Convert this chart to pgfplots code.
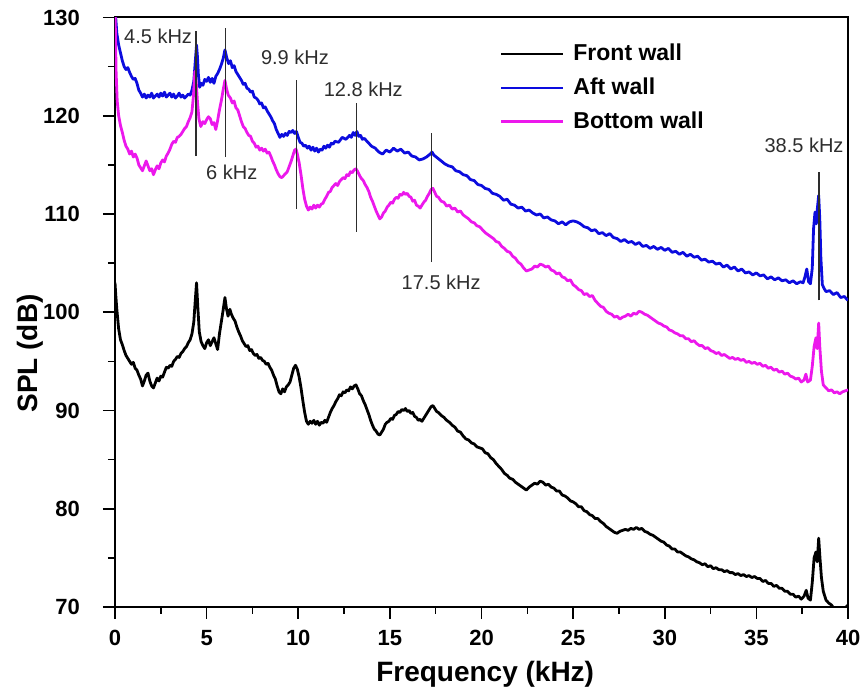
\documentclass[border=0pt]{standalone}
\usepackage{fontspec}
\setmainfont{Liberation Sans}
\usepackage{pgfplots}
\pgfplotsset{compat=1.18}
\definecolor{aftblue}{RGB}{12,12,222}
\definecolor{botpink}{RGB}{236,24,236}
\definecolor{annot}{RGB}{45,45,45}

\begin{document}
\begin{tikzpicture}
\begin{axis}[
  scale only axis, width=366.5pt, height=294.75pt,
  xmin=0, xmax=40, ymin=70, ymax=130,
  xtick={0,5,...,40}, ytick={70,80,...,130},
  minor x tick num=1, minor y tick num=1,
  xtick pos=bottom, ytick pos=left,
  major tick length=6pt, minor tick length=3.5pt,
  axis line style={line width=1pt},
  every tick/.append style={black, line width=0.8pt},
  /pgf/number format/assume math mode=true,
  tick label style={font=\fontsize{11}{13}\selectfont\bfseries},
  xticklabel style={yshift=-2pt},
  yticklabel style={xshift=-8pt},
  xlabel={Frequency (kHz)}, ylabel={SPL (dB)},
  label style={font=\fontsize{14}{16}\selectfont\bfseries},
  xlabel style={at={(axis description cs:0.505,-0.1137)}, anchor=center},
  ylabel style={at={(axis description cs:-0.116,0.43)}, anchor=center},
  legend style={at={(axis description cs:0.525,0.962)}, anchor=north west,
    draw=none, fill=none, inner sep=0pt, row sep=3pt,
    font=\fontsize{11.5}{13}\selectfont\bfseries,
    nodes={inner xsep=4.5pt}, cells={anchor=west}},
  legend image code/.code={\draw[#1, line width=1.1pt] (0pt,0pt) -- (31pt,0pt);},
  tick align=outside,
]
\coordinate (bl) at (rel axis cs:0,0);
\coordinate (tr) at (rel axis cs:1,1);

% Front wall
\addplot[black, line width=1.4pt, line join=round] coordinates {
(0,103) (0.04,101.8) (0.1,100.3) (0.2,98.3) (0.3,97.2) (0.4,96.7) (0.5,96.1) (0.6,95.6) (0.7,95.3) (0.8,95.0)
(0.9,94.7) (1.0,94.9) (1.1,94.3) (1.2,94.1) (1.3,93.6) (1.4,93.2) (1.5,92.5) (1.6,93.0) (1.7,93.6) (1.8,93.8)
(1.9,93.0) (2.0,92.5) (2.1,92.3) (2.2,92.8) (2.3,93.3) (2.4,93.0) (2.5,93.5) (2.6,93.4) (2.7,93.9) (2.8,94.4)
(2.9,94.3) (3.0,94.6) (3.1,94.5) (3.2,95.0) (3.3,95.2) (3.4,95.5) (3.5,95.4) (3.6,95.8) (3.7,96.0) (3.8,96.3)
(3.9,96.5) (4.0,96.9) (4.1,97.2) (4.2,97.8) (4.3,99.0) (4.38,101.2) (4.45,103.0) (4.52,100.5) (4.6,98.0) (4.7,97.0)
(4.8,96.6) (4.9,96.3) (5.0,96.9) (5.1,97.2) (5.2,96.6) (5.3,97.0) (5.4,97.4) (5.5,96.8) (5.6,96.2) (5.7,97.8)
(5.8,99.0) (5.9,100.2) (6.0,101.5) (6.08,100.4) (6.17,99.6) (6.27,100.3) (6.35,99.8) (6.45,99.4) (6.55,99.1) (6.65,98.5)
(6.75,98.0) (6.85,97.6) (6.95,97.1) (7.05,96.8) (7.15,96.5) (7.25,96.6) (7.35,96.1) (7.45,96.2) (7.55,95.8) (7.65,95.6)
(7.75,95.7) (7.85,95.3) (7.95,95.4) (8.05,95.1) (8.15,95.0) (8.25,94.7) (8.35,94.8) (8.45,94.4) (8.55,94.1) (8.65,93.6)
(8.75,93.2) (8.85,92.5) (8.95,91.9) (9.05,91.7) (9.15,92.2) (9.25,91.9) (9.35,92.4) (9.45,92.6) (9.55,92.9) (9.65,93.6)
(9.75,94.3) (9.85,94.6) (9.95,94.2) (10.05,93.4) (10.15,92.3) (10.25,91.0) (10.35,89.8) (10.45,88.9) (10.55,88.6) (10.65,88.9)
(10.75,88.7) (10.85,89.0) (10.95,88.6) (11.05,88.9) (11.15,88.5) (11.25,88.8) (11.35,88.7) (11.45,89.0) (11.55,88.8) (11.65,89.3)
(11.75,89.8) (11.85,90.2) (11.95,90.5) (12.05,90.9) (12.15,91.2) (12.25,91.6) (12.35,91.5) (12.45,91.9) (12.55,91.8) (12.65,92.1)
(12.75,92.0) (12.85,92.4) (12.95,92.2) (13.05,92.5) (13.15,92.6) (13.25,92.2) (13.35,91.7) (13.45,91.5) (13.55,91.0) (13.65,90.6)
(13.75,90.1) (13.85,89.6) (13.95,89.0) (14.05,88.5) (14.15,88.1) (14.25,87.9) (14.35,87.6) (14.45,87.5) (14.55,87.8) (14.65,88.1)
(14.75,88.6) (14.85,88.8) (14.95,88.9) (15.05,89.2) (15.15,89.1) (15.25,89.5) (15.35,89.6) (15.45,89.9) (15.55,89.8) (15.65,90.1)
(15.75,90.0) (15.85,90.2) (15.95,89.9) (16.05,90.0) (16.15,89.7) (16.25,89.8) (16.35,89.4) (16.45,89.3) (16.55,89.0) (16.65,89.1)
(16.75,88.9) (16.85,89.2) (16.95,89.5) (17.05,89.8) (17.15,90.1) (17.25,90.4) (17.35,90.5) (17.45,90.2) (17.55,89.9) (17.65,89.8)
(17.8,89.5) (17.95,89.3) (18.1,89.0) (18.25,88.8) (18.4,88.5) (18.55,88.3) (18.7,87.9) (18.85,87.8) (19.0,87.4) (19.15,87.1)
(19.3,87.0) (19.45,86.7) (19.6,86.6) (19.75,86.3) (19.9,86.2) (20.05,86.1) (20.2,85.7) (20.35,85.6) (20.5,85.2) (20.65,85.0)
(20.8,84.6) (20.95,84.3) (21.1,84.0) (21.25,83.6) (21.4,83.4) (21.55,83.1) (21.7,83.0) (21.85,82.7) (22.0,82.5) (22.15,82.3)
(22.3,82.1) (22.45,81.9) (22.6,82.2) (22.75,82.4) (22.9,82.6) (23.05,82.5) (23.2,82.8) (23.35,82.7) (23.5,82.4) (23.65,82.5)
(23.8,82.2) (23.95,82.1) (24.1,81.8) (24.25,81.8) (24.4,81.4) (24.55,81.3) (24.7,81.1) (24.85,80.8) (25.0,80.7) (25.15,80.5)
(25.3,80.2) (25.45,80.2) (25.6,79.8) (25.75,79.7) (25.9,79.4) (26.05,79.3) (26.2,79.0) (26.35,79.0) (26.5,78.7) (26.65,78.5)
(26.8,78.2) (26.95,78.0) (27.1,77.8) (27.25,77.6) (27.4,77.5) (27.55,77.7) (27.7,77.8) (27.85,77.9) (28.0,77.8) (28.15,78.0)
(28.3,77.9) (28.45,78.1) (28.6,77.9) (28.75,78.0) (28.9,77.7) (29.05,77.6) (29.2,77.4) (29.35,77.3) (29.5,77.1) (29.65,76.9)
(29.8,76.7) (29.95,76.6) (30.1,76.3) (30.25,76.2) (30.4,75.9) (30.55,75.9) (30.7,75.6) (30.85,75.6) (31.0,75.4) (31.15,75.2)
(31.3,75.1) (31.45,74.9) (31.6,74.8) (31.75,74.6) (31.9,74.5) (32.05,74.3) (32.2,74.4) (32.35,74.1) (32.5,74.2) (32.65,73.9)
(32.8,74.0) (32.95,73.8) (33.1,73.8) (33.25,73.6) (33.4,73.7) (33.55,73.5) (33.7,73.5) (33.85,73.3) (34.0,73.4) (34.15,73.2)
(34.3,73.3) (34.45,73.1) (34.6,73.2) (34.75,73.0) (34.9,73.1) (35.05,72.9) (35.2,72.9) (35.35,72.6) (35.5,72.7) (35.65,72.4)
(35.8,72.4) (35.95,72.1) (36.1,72.2) (36.25,71.9) (36.4,71.9) (36.55,71.6) (36.7,71.6) (36.85,71.3) (37.0,71.3) (37.15,71.0)
(37.3,71.1) (37.45,70.8) (37.6,71.1) (37.72,71.7) (37.82,70.9) (37.95,70.7) (38.05,72.5) (38.15,75.0) (38.25,75.6) (38.32,74.6)
(38.4,77.0) (38.47,75.0) (38.55,73.0) (38.65,71.6) (38.8,70.7) (38.95,70.4) (39.1,70.2) (39.25,69.8) (39.4,69.6) (39.6,69.7)
(39.8,69.8) (40.0,70.2)
};
\addlegendentry{Front wall}

% Aft wall
\addplot[aftblue, line width=1.4pt, line join=round] coordinates {
(0,131) (0.1,128.4) (0.2,127.2) (0.3,126.4) (0.4,125.6) (0.5,125.0) (0.6,124.7) (0.7,124.9) (0.8,124.4) (0.9,124.0)
(1.0,123.7) (1.1,123.8) (1.2,123.3) (1.3,122.6) (1.4,122.3) (1.5,121.9) (1.6,122.2) (1.7,121.8) (1.8,122.1) (1.9,121.9)
(2.0,122.3) (2.1,121.8) (2.2,122.0) (2.3,122.2) (2.4,121.9) (2.5,122.3) (2.6,122.0) (2.7,122.4) (2.8,121.9) (2.9,122.1)
(3.0,122.3) (3.1,121.9) (3.2,122.2) (3.3,121.8) (3.4,122.0) (3.5,122.3) (3.6,121.9) (3.7,122.1) (3.8,121.8) (3.9,122.0)
(4.0,122.2) (4.1,122.1) (4.2,122.6) (4.3,123.5) (4.38,125.5) (4.45,127.2) (4.5,126.0) (4.55,124.2) (4.62,122.9) (4.7,123.3)
(4.8,123.1) (4.9,123.7) (5.0,123.5) (5.1,123.9) (5.2,123.4) (5.3,123.8) (5.4,123.3) (5.5,124.0) (5.6,124.3) (5.7,124.7)
(5.8,125.2) (5.9,125.8) (6.0,126.7) (6.1,125.9) (6.2,125.3) (6.3,125.6) (6.4,124.9) (6.5,125.1) (6.6,124.5) (6.7,124.2)
(6.8,123.9) (6.9,123.6) (7.0,123.2) (7.1,123.3) (7.2,122.8) (7.3,122.7) (7.4,122.4) (7.5,122.5) (7.6,121.9) (7.7,121.8)
(7.8,121.6) (7.9,121.2) (8.0,121.3) (8.1,120.8) (8.2,120.9) (8.3,120.5) (8.4,120.2) (8.5,119.9) (8.6,119.5) (8.7,119.2)
(8.8,118.6) (8.9,118.2) (9.0,117.8) (9.1,118.1) (9.2,117.9) (9.3,118.2) (9.4,118.0) (9.5,118.4) (9.6,118.3) (9.7,118.5)
(9.8,118.2) (9.9,118.4) (10.0,117.8) (10.1,117.3) (10.2,117.2) (10.3,116.9) (10.4,117.0) (10.5,116.7) (10.6,116.9) (10.7,116.5)
(10.8,116.8) (10.9,116.4) (11.0,116.7) (11.1,116.3) (11.2,116.6) (11.3,116.5) (11.4,116.9) (11.5,116.7) (11.6,117.0) (11.7,116.8)
(11.8,117.2) (11.9,117.1) (12.0,117.4) (12.2,117.3) (12.4,117.8) (12.6,117.6) (12.8,118.0) (12.9,117.8) (13.0,118.3) (13.1,118.0)
(13.2,118.4) (13.3,117.9) (13.4,118.0) (13.5,117.6) (13.6,117.7) (13.75,117.4) (13.9,117.1) (14.0,116.9) (14.2,116.7) (14.4,116.3)
(14.6,116.1) (14.8,116.5) (15.0,116.3) (15.2,116.7) (15.4,116.4) (15.6,116.6) (15.8,116.2) (16.0,116.3) (16.2,115.9) (16.4,115.8)
(16.6,115.5) (16.8,115.6) (17.0,115.8) (17.2,116.1) (17.3,116.3) (17.4,116.0) (17.6,115.7) (17.8,115.4) (18.0,115.1) (18.2,114.9)
(18.4,114.8) (18.6,114.4) (18.8,114.3) (19.0,114.0) (19.2,113.9) (19.4,113.5) (19.6,113.4) (19.8,113.0) (20.0,112.9) (20.2,112.6)
(20.4,112.5) (20.6,112.1) (20.8,112.0) (21.0,111.8) (21.2,111.4) (21.4,111.5) (21.6,111.0) (21.8,110.9) (22.0,110.6) (22.2,110.7)
(22.4,110.3) (22.6,110.4) (22.8,110.1) (23.0,109.9) (23.2,110.0) (23.4,109.6) (23.6,109.7) (23.8,109.4) (24.0,109.3) (24.2,109.0)
(24.4,109.2) (24.6,108.9) (24.8,109.2) (25.0,109.3) (25.2,109.2) (25.4,109.0) (25.6,108.7) (25.8,108.6) (26.0,108.3) (26.2,108.4)
(26.4,108.0) (26.6,108.1) (26.8,107.8) (27.0,108.0) (27.2,107.6) (27.4,107.5) (27.6,107.2) (27.8,107.4) (28.0,107.1) (28.2,107.2)
(28.4,106.9) (28.6,107.1) (28.8,106.7) (29.0,106.8) (29.2,106.5) (29.4,106.7) (29.6,106.4) (29.8,106.6) (30.0,106.3) (30.2,106.5)
(30.4,106.1) (30.6,106.2) (30.8,105.9) (31.0,106.1) (31.2,105.7) (31.4,105.9) (31.6,105.6) (31.8,105.7) (32.0,105.3) (32.2,105.4)
(32.4,105.1) (32.6,105.2) (32.8,104.9) (33.0,105.0) (33.2,104.6) (33.4,104.8) (33.6,104.4) (33.8,104.6) (34.0,104.2) (34.2,104.4)
(34.4,104.0) (34.6,104.1) (34.8,103.8) (35.0,104.0) (35.2,103.7) (35.4,103.8) (35.6,103.4) (35.8,103.6) (36.0,103.3) (36.2,103.5)
(36.4,103.2) (36.6,103.3) (36.8,103.0) (37.0,103.2) (37.2,102.9) (37.4,103.1) (37.55,103.0) (37.65,103.6) (37.75,104.4) (37.85,103.1)
(37.95,102.9) (38.05,104.5) (38.12,108.5) (38.2,110.2) (38.27,109.0) (38.33,110.6) (38.4,111.9) (38.46,109.5) (38.52,105.5) (38.6,102.8)
(38.7,102.4) (38.8,102.1) (39.0,102.2) (39.2,101.8) (39.4,102.0) (39.6,101.5) (39.8,101.6) (40.0,101.2)
};
\addlegendentry{Aft wall}

% Bottom wall
\addplot[botpink, line width=1.4pt, line join=round] coordinates {
(0,131) (0.06,124.5) (0.12,121.5) (0.2,120.0) (0.3,119.0) (0.4,118.3) (0.5,117.5) (0.6,116.9) (0.7,116.6) (0.8,116.1)
(0.9,116.4) (1.0,115.8) (1.1,116.1) (1.2,115.7) (1.3,115.0) (1.4,114.7) (1.5,114.4) (1.6,114.9) (1.7,115.4) (1.8,114.9)
(1.9,114.4) (2.0,114.6) (2.1,114.0) (2.2,114.5) (2.3,114.9) (2.4,114.6) (2.5,115.2) (2.6,115.5) (2.7,115.3) (2.8,115.9)
(2.9,116.2) (3.0,116.6) (3.1,117.1) (3.2,117.4) (3.3,117.3) (3.4,117.8) (3.5,117.9) (3.6,118.1) (3.7,118.4) (3.8,118.7)
(3.9,118.9) (4.0,119.4) (4.1,119.8) (4.2,120.4) (4.28,122.0) (4.36,124.5) (4.44,123.2) (4.5,121.4) (4.58,119.7) (4.68,118.9)
(4.8,119.4) (4.9,119.2) (5.0,119.6) (5.1,119.9) (5.2,119.7) (5.3,119.1) (5.4,119.3) (5.5,118.6) (5.6,119.5) (5.7,120.6)
(5.8,121.5) (5.9,122.6) (6.0,123.6) (6.08,122.8) (6.18,122.1) (6.3,121.8) (6.4,121.3) (6.5,121.5) (6.6,120.8) (6.7,120.6)
(6.8,120.0) (6.9,119.4) (7.0,118.9) (7.1,118.7) (7.2,118.3) (7.3,118.0) (7.4,117.9) (7.5,117.4) (7.6,117.2) (7.7,116.8)
(7.8,116.9) (7.9,116.5) (8.0,116.7) (8.1,116.4) (8.2,116.6) (8.3,116.2) (8.4,116.3) (8.5,115.9) (8.6,115.4) (8.7,115.0)
(8.8,114.5) (8.9,114.1) (9.0,113.8) (9.1,113.7) (9.2,113.9) (9.3,114.1) (9.4,114.3) (9.5,114.8) (9.6,115.3) (9.7,115.9)
(9.8,116.5) (9.88,116.6) (9.95,116.1) (10.05,115.2) (10.15,114.0) (10.25,112.6) (10.35,111.5) (10.45,110.8) (10.55,110.4) (10.65,110.7)
(10.75,110.5) (10.85,110.9) (10.95,110.6) (11.05,110.9) (11.15,110.7) (11.25,111.0) (11.35,111.1) (11.45,111.5) (11.55,111.8) (11.65,112.2)
(11.75,112.3) (11.85,112.7) (11.95,112.9) (12.05,113.1) (12.15,112.9) (12.25,113.3) (12.35,113.5) (12.45,113.7) (12.55,113.6) (12.65,114.0)
(12.75,113.9) (12.85,114.3) (12.95,114.2) (13.05,114.5) (13.15,114.6) (13.25,114.3) (13.35,113.9) (13.45,113.6) (13.55,113.4) (13.65,113.0)
(13.75,112.7) (13.85,112.3) (13.95,111.7) (14.05,111.3) (14.15,110.8) (14.25,110.3) (14.35,109.9) (14.45,109.5) (14.55,109.7) (14.65,110.1)
(14.75,110.3) (14.85,110.7) (14.95,110.9) (15.05,111.2) (15.15,111.1) (15.25,111.5) (15.35,111.7) (15.45,111.6) (15.55,112.0) (15.65,111.9)
(15.75,112.2) (15.85,112.0) (15.95,112.1) (16.05,111.8) (16.15,111.7) (16.25,111.3) (16.35,111.4) (16.45,110.9) (16.55,110.8) (16.65,110.6)
(16.75,110.9) (16.85,111.2) (16.95,111.4) (17.05,111.8) (17.15,112.1) (17.25,112.5) (17.35,112.6) (17.45,112.2) (17.55,111.8) (17.65,111.7)
(17.8,111.3) (17.95,111.2) (18.1,110.8) (18.25,110.9) (18.4,110.5) (18.55,110.6) (18.7,110.2) (18.85,110.3) (19.0,109.9) (19.15,109.7)
(19.3,109.5) (19.45,109.2) (19.6,109.1) (19.75,108.8) (19.9,108.7) (20.05,108.4) (20.2,108.1) (20.35,107.9) (20.5,107.7) (20.65,107.5)
(20.8,107.2) (20.95,107.1) (21.1,106.7) (21.25,106.5) (21.4,106.2) (21.55,106.1) (21.7,105.7) (21.85,105.5) (22.0,105.1) (22.15,104.9)
(22.3,104.5) (22.45,104.2) (22.6,104.3) (22.75,104.4) (22.9,104.7) (23.05,104.6) (23.2,104.9) (23.35,104.8) (23.5,104.6) (23.65,104.7)
(23.8,104.3) (23.95,104.2) (24.1,103.9) (24.25,104.0) (24.4,103.6) (24.55,103.5) (24.7,103.2) (24.85,103.3) (25.0,102.8) (25.15,102.6)
(25.3,102.3) (25.45,102.2) (25.6,101.8) (25.75,101.9) (25.9,101.6) (26.05,101.7) (26.2,101.2) (26.35,100.9) (26.5,100.6) (26.65,100.5)
(26.8,100.1) (26.95,99.9) (27.1,99.8) (27.25,99.5) (27.4,99.6) (27.55,99.3) (27.7,99.5) (27.85,99.6) (28.0,99.8) (28.15,99.6)
(28.3,99.9) (28.45,99.8) (28.6,100.1) (28.75,100.0) (28.9,99.8) (29.05,99.7) (29.2,99.5) (29.35,99.3) (29.5,99.1) (29.65,98.9)
(29.8,98.8) (29.95,98.6) (30.1,98.5) (30.25,98.2) (30.4,98.1) (30.55,97.9) (30.7,97.8) (30.85,97.6) (31.0,97.6) (31.15,97.3)
(31.3,97.3) (31.45,97.0) (31.6,97.1) (31.75,96.8) (31.9,96.6) (32.05,96.6) (32.2,96.3) (32.35,96.4) (32.5,96.1) (32.65,96.0)
(32.8,95.8) (32.95,95.9) (33.1,95.6) (33.25,95.7) (33.4,95.5) (33.55,95.3) (33.7,95.4) (33.85,95.2) (34.0,95.3) (34.15,95.1)
(34.3,95.2) (34.45,94.9) (34.6,95.0) (34.75,94.8) (34.9,94.9) (35.05,94.7) (35.2,94.8) (35.35,94.5) (35.5,94.6) (35.65,94.3)
(35.8,94.4) (35.95,94.1) (36.1,94.2) (36.25,93.9) (36.4,94.0) (36.55,93.7) (36.7,93.8) (36.85,93.5) (37.0,93.4) (37.15,93.2)
(37.3,93.3) (37.45,92.9) (37.6,93.1) (37.7,93.7) (37.8,92.9) (37.95,93.1) (38.05,94.5) (38.15,96.5) (38.25,97.4) (38.32,96.3)
(38.4,98.9) (38.46,96.5) (38.55,94.0) (38.65,92.6) (38.8,92.3) (38.95,92.0) (39.1,92.1) (39.25,91.8) (39.4,91.9) (39.55,91.7)
(39.7,91.9) (39.85,92.0) (40.0,92.1)
};
\addlegendentry{Bottom wall}

% peak markers
\addplot[annot, line width=0.7pt, forget plot] coordinates {(4.42,115.9) (4.42,128.6)};
\addplot[annot, line width=0.7pt, forget plot] coordinates {(6.04,115.8) (6.04,128.9)};
\addplot[annot, line width=0.7pt, forget plot] coordinates {(9.91,110.5) (9.91,123.6)};
\addplot[annot, line width=0.7pt, forget plot] coordinates {(13.18,108.2) (13.18,121.3)};
\addplot[annot, line width=0.7pt, forget plot] coordinates {(17.28,105.1) (17.28,118.2)};
\addplot[annot, line width=0.7pt, forget plot] coordinates {(38.42,101.2) (38.42,114.3)};

\begin{scope}[every node/.style={font=\fontsize{10}{12}\selectfont, text=annot, inner sep=0pt}]
\node at (axis cs:2.35,128.1) {4.5 kHz};
\node at (axis cs:6.37,114.2) {6 kHz};
\node at (axis cs:9.82,125.9) {9.9 kHz};
\node at (axis cs:13.55,122.7) {12.8 kHz};
\node at (axis cs:17.8,103.0) {17.5 kHz};
\node at (axis cs:37.6,117.0) {38.5 kHz};
\end{scope}
\end{axis}
\pgfresetboundingbox
\path ([shift={(-57.5pt,-45.5pt)}]bl) rectangle ([shift={(8.5pt,8.75pt)}]tr);
\end{tikzpicture}
\end{document}
